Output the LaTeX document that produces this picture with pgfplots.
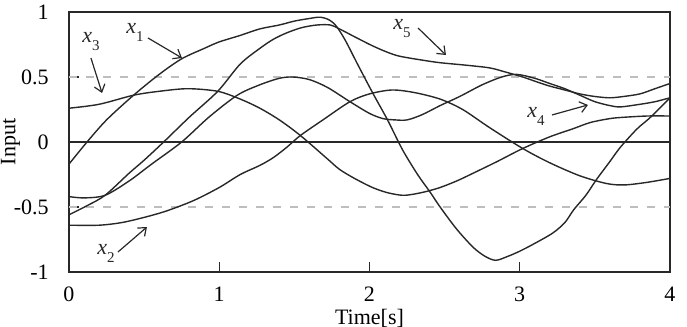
\documentclass[border=0pt]{standalone}
\usepackage{fontspec}
\setmainfont{Liberation Serif}
\usepackage{pgfplots}
\pgfplotsset{compat=1.18}
\usetikzlibrary{arrows.meta}
\definecolor{curve}{RGB}{40,40,40}
\definecolor{dashgray}{RGB}{190,190,190}
\newcommand{\lab}[2]{\textit{#1}\raisebox{-4pt}{\fontsize{7.5}{8}\selectfont #2}}
\begin{document}
\fontsize{11}{13}\selectfont
\begin{tikzpicture}
\begin{axis}[name=ax, scale only axis, width=300.5pt, height=130pt,
  xmin=0, xmax=4, ymin=-1, ymax=1,
  xtick={0,1,2,3,4}, xticklabels={0,1,2,3,4},
  ytick={-1,-0.5,0,0.5,1}, yticklabels={-1,-0.5,0,0.5,1},
  tick pos=left, tick align=inside, major tick length=5pt,
  axis line style={line width=0.8pt, curve},
  every tick/.style={curve, line width=0.7pt},
  xticklabel style={yshift=-3.8pt},
  yticklabel style={xshift=-6.3pt},
  xlabel={Time[s]}, ylabel={Input},
  xlabel style={at={(axis description cs:0.5,0)}, anchor=center, yshift=-23pt},
  ylabel style={at={(axis description cs:-0.0975,0.5)}, anchor=center},
  crv/.style={curve, line width=0.7pt, smooth, no marks, solid},
]
% reference lines
\addplot[dashgray, line width=0.7pt, dash pattern=on 4pt off 4.5pt, sharp plot, no marks] coordinates {(0,0.5) (4,0.5)};
\addplot[dashgray, line width=0.7pt, dash pattern=on 4pt off 4.5pt, sharp plot, no marks] coordinates {(0,-0.5) (4,-0.5)};
\addplot[curve, line width=0.8pt, sharp plot, no marks] coordinates {(0,0) (4,0)};
% x1
\addplot[crv] coordinates {
(0.00,-0.17) (0.12,0.00) (0.25,0.17) (0.43,0.36) (0.60,0.52) (0.75,0.64)
(0.90,0.72) (1.00,0.77) (1.14,0.82) (1.27,0.87) (1.40,0.90) (1.50,0.93)
(1.60,0.95) (1.67,0.96) (1.73,0.94) (1.78,0.89) (1.84,0.78) (1.92,0.60)
(2.02,0.38) (2.12,0.17) (2.22,-0.06) (2.32,-0.25) (2.40,-0.38) (2.47,-0.50)
(2.58,-0.67) (2.69,-0.81) (2.77,-0.88) (2.84,-0.91) (2.92,-0.88) (3.00,-0.84)
(3.10,-0.78) (3.22,-0.70) (3.30,-0.62) (3.36,-0.52) (3.44,-0.41) (3.51,-0.29)
(3.60,-0.15) (3.67,-0.04) (3.78,0.10) (3.87,0.19) (4.00,0.34)};
% x2
\addplot[crv] coordinates {
(0.00,-0.64) (0.20,-0.64) (0.35,-0.62) (0.50,-0.58) (0.65,-0.53) (0.83,-0.45)
(1.00,-0.35) (1.14,-0.25) (1.27,-0.18) (1.36,-0.12) (1.45,-0.04) (1.54,0.05)
(1.69,0.17) (1.87,0.31) (2.00,0.37) (2.15,0.40) (2.30,0.38) (2.47,0.33)
(2.62,0.25) (2.80,0.11) (3.02,-0.05) (3.20,-0.16) (3.40,-0.26) (3.58,-0.32)
(3.70,-0.33) (3.85,-0.31) (4.00,-0.28)};
% x3
\addplot[crv] coordinates {
(0.00,0.26) (0.20,0.29) (0.43,0.36) (0.60,0.39) (0.79,0.41) (0.99,0.39)
(1.14,0.33) (1.27,0.26) (1.40,0.17) (1.54,0.05) (1.72,-0.13) (1.80,-0.21)
(1.90,-0.28) (2.02,-0.35) (2.12,-0.39) (2.22,-0.41) (2.30,-0.40) (2.38,-0.38)
(2.47,-0.35) (2.58,-0.30) (2.69,-0.24) (2.85,-0.15) (3.02,-0.05) (3.20,0.04)
(3.35,0.10) (3.47,0.15) (3.60,0.18) (3.69,0.19) (3.85,0.20) (4.00,0.20)};
% x4
\addplot[crv] coordinates {
(0.00,-0.42) (0.10,-0.43) (0.24,-0.41) (0.40,-0.30) (0.55,-0.17) (0.75,0.00)
(0.93,0.19) (1.12,0.36) (1.27,0.44) (1.40,0.49) (1.49,0.50) (1.60,0.48)
(1.72,0.42) (1.87,0.31) (2.00,0.22) (2.09,0.18) (2.17,0.17) (2.25,0.17)
(2.35,0.21) (2.47,0.28) (2.60,0.35) (2.75,0.44) (2.88,0.50) (2.98,0.52)
(3.10,0.49) (3.20,0.45) (3.30,0.41) (3.40,0.36) (3.50,0.31) (3.60,0.28)
(3.67,0.27) (3.80,0.29) (3.90,0.31) (4.00,0.34)};
% x5
\addplot[crv] coordinates {
(0.00,-0.56) (0.12,-0.49) (0.24,-0.41) (0.40,-0.24) (0.50,-0.14) (0.63,0.00)
(0.80,0.19) (0.99,0.39) (1.14,0.60) (1.27,0.72) (1.36,0.79) (1.45,0.84)
(1.55,0.88) (1.65,0.90) (1.74,0.90) (1.80,0.87) (1.90,0.81) (2.02,0.74)
(2.12,0.69) (2.20,0.66) (2.35,0.63) (2.47,0.61) (2.65,0.59) (2.80,0.57)
(2.90,0.54) (3.02,0.50) (3.12,0.46) (3.20,0.43) (3.30,0.40) (3.40,0.37)
(3.50,0.35) (3.60,0.34) (3.69,0.35) (3.80,0.37) (3.90,0.41) (4.00,0.45)};
% annotations
\node[anchor=base west, inner sep=0pt, curve] at (axis cs:0.087,0.769) {\lab{x}{3}};
\node[anchor=base west, inner sep=0pt, curve] at (axis cs:0.379,0.838) {\lab{x}{1}};
\node[anchor=base west, inner sep=0pt, curve] at (axis cs:2.156,0.862) {\lab{x}{5}};
\node[anchor=base west, inner sep=0pt, curve] at (axis cs:3.048,0.185) {\lab{x}{4}};
\node[anchor=base west, inner sep=0pt, curve] at (axis cs:0.186,-0.869) {\lab{x}{2}};
\draw[curve, line width=0.6pt, -{Straight Barb[length=3.5pt,width=5.5pt]}] (axis cs:0.146,0.646) -- (axis cs:0.22,0.377);
\draw[curve, line width=0.6pt, -{Straight Barb[length=3.5pt,width=5.5pt]}] (axis cs:0.526,0.80) -- (axis cs:0.752,0.646);
\draw[curve, line width=0.6pt, -{Straight Barb[length=3.5pt,width=5.5pt]}] (axis cs:2.323,0.877) -- (axis cs:2.509,0.669);
\draw[curve, line width=0.6pt, -{Straight Barb[length=3.5pt,width=5.5pt]}] (axis cs:3.215,0.208) -- (axis cs:3.454,0.285);
\draw[curve, line width=0.6pt, -{Straight Barb[length=3.5pt,width=5.5pt]}] (axis cs:0.326,-0.846) -- (axis cs:0.519,-0.654);
\end{axis}
\pgfresetboundingbox
\path[use as bounding box] (ax.south west) ++(-34.5pt,-27.5pt) rectangle ++(343.5pt,163.5pt);
\end{tikzpicture}
\end{document}
